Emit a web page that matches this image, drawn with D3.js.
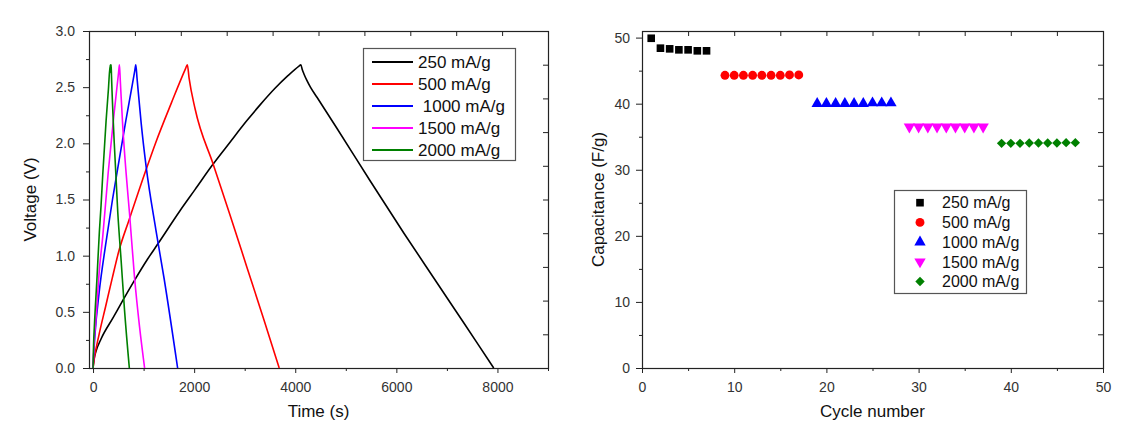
<!doctype html>
<html lang="en">
<head>
<meta charset="UTF-8">
<title>Charge-discharge and rate capability</title>
<style>
  body { margin: 0; background: #fff; }
  svg { display: block; font-family: Arial, "Liberation Sans", sans-serif; }
  .tick text { fill: #333; font-size: 14px; }
  .tick line { stroke: #222; }
  .axis-title { font-size: 17px; fill: #111; }
  .legend text { fill: #111; white-space: pre; }
</style>
</head>
<body>
<div id="chart"></div>
<script src="https://d3js.org/d3.v7.min.js"></script>
<script>
// galvanostatic charge / discharge curves
const t250 = [0, 20, 60, 160, 400, 600, 820, 1080, 1290, 1720, 2020, 2350, 2710, 3040, 3300, 3600, 3850, 4080, 4110, 4140, 4170, 4230, 4300, 4430, 4830, 5490, 6150, 6810, 7210, 7610, 7926]
const v250 = [0, 0.08, 0.15, 0.26, 0.45, 0.61, 0.78, 0.97, 1.11, 1.40, 1.59, 1.80, 2.01, 2.20, 2.34, 2.49, 2.60, 2.69, 2.70, 2.655, 2.62, 2.56, 2.50, 2.41, 2.13, 1.66, 1.20, 0.755, 0.485, 0.215, 0]

const t500 = [0, 20, 120, 250, 380, 516, 714, 1045, 1243, 1550, 1830, 1865, 1900, 2017, 2380, 2711, 3042, 3380, 3683]
const v500 = [0, 0.07, 0.30, 0.55, 0.80, 1.05, 1.32, 1.76, 2.01, 2.36, 2.665, 2.70, 2.58, 2.31, 1.81, 1.36, 0.90, 0.43, 0]

const t1000 = [0, 10, 40, 120, 250, 385, 516, 648, 760, 825, 846, 870, 952, 1051, 1243, 1408, 1673]
const v1000 = [0, 0.10, 0.31, 0.67, 1.10, 1.50, 1.85, 2.20, 2.48, 2.645, 2.70, 2.58, 2.18, 1.79, 1.23, 0.79, 0]

const t1500 = [0, 15, 60, 126, 190, 300, 410, 505, 522, 540, 588, 655, 721, 820, 919, 1020]
const v1500 = [0, 0.18, 0.45, 0.88, 1.16, 1.74, 2.24, 2.63, 2.70, 2.55, 2.15, 1.73, 1.38, 0.81, 0.37, 0]

const t2000 = [0, 10, 26, 79, 126, 159, 192, 258, 304, 340, 352, 358, 365, 420, 490, 555, 622, 718]
const v2000 = [0, 0.20, 0.37, 0.81, 1.22, 1.45, 1.72, 2.20, 2.48, 2.70, 2.63, 2.70, 2.60, 2.00, 1.38, 0.96, 0.52, 0]

// specific capacitance vs cycle number
const cyc250 = [1, 2, 3, 4, 5, 6, 7]
const cap250 = [49.9, 48.4, 48.3, 48.15, 48.15, 48.0, 48.0]
const cyc500 = [9, 10, 11, 12, 13, 14, 15, 16, 17]
const cap500 = [44.3, 44.3, 44.3, 44.3, 44.3, 44.3, 44.3, 44.35, 44.35]
const cyc1000 = [19, 20, 21, 22, 23, 24, 25, 26, 27]
const cap1000 = [40.0, 40.0, 40.0, 40.0, 40.0, 40.0, 40.1, 40.1, 40.1]
const cyc1500 = [29, 30, 31, 32, 33, 34, 35, 36, 37]
const cap1500 = [36.5, 36.5, 36.5, 36.5, 36.5, 36.5, 36.5, 36.5, 36.5]
const cyc2000 = [39, 40, 41, 42, 43, 44, 45, 46, 47]
const cap2000 = [34.0, 34.0, 34.0, 34.05, 34.05, 34.05, 34.05, 34.1, 34.1]

const lineLabels = ['250 mA/g', '500 mA/g', ' 1000 mA/g', '1500 mA/g', '2000 mA/g']
const dotLabels = ['250 mA/g', '500 mA/g', '1000 mA/g', '1500 mA/g', '2000 mA/g']
const colors = ['#000000', '#ff0000', '#0000ff', '#ff00ff', '#008000']

const vMajor = [0, 0.5, 1.0, 1.5, 2.0, 2.5, 3.0]
const vMinor = [0.25, 0.75, 1.25, 1.75, 2.25, 2.75]
const tMajor = [0, 2000, 4000, 6000, 8000]
const tMinor = [1000, 3000, 5000, 7000, 9000]
const cMajor = [0, 10, 20, 30, 40, 50]
const cMinor = [5, 15, 25, 35, 45]
const capMajor = [0, 10, 20, 30, 40, 50]
const capMinor = [5, 15, 25, 35, 45]

const svg = d3.select('#chart')
  .append('svg')
  .attr('width', 1138)
  .attr('height', 433)

function zip (xs, ys) {
  return xs.map((d, i) => [d, ys[i]])
}

// draws the box, the outward labelled axes and the inward mirror ticks
function frame (x, y, opt) {
  const [x0, x1] = x.range()
  const [y0, y1] = y.range()

  svg.append('g')
    .attr('transform', `translate(0,${y0})`)
    .call(d3.axisBottom(x).tickValues(opt.xMinor).tickSize(3).tickFormat(''))
  svg.append('g')
    .attr('transform', `translate(0,${y0})`)
    .call(d3.axisBottom(x).tickValues(opt.xMajor).tickSize(5).tickPadding(9).tickFormat(opt.xFormat))
  svg.append('g')
    .attr('transform', `translate(${x0},0)`)
    .call(d3.axisLeft(y).tickValues(opt.yMinor).tickSize(3).tickFormat(''))
  svg.append('g')
    .attr('transform', `translate(${x0},0)`)
    .call(d3.axisLeft(y).tickValues(opt.yMajor).tickSize(6).tickPadding(opt.yPad).tickFormat(opt.yFormat))

  // mirror axes: ten equal divisions of the box
  const xDiv = d3.scaleLinear().domain([0, 10]).range([x0, x1])
  const yDiv = d3.scaleLinear().domain([0, 10]).range([y0, y1])
  svg.append('g')
    .attr('transform', `translate(0,${y1})`)
    .call(d3.axisTop(xDiv).ticks(10).tickSize(-5).tickFormat(''))
  svg.append('g')
    .attr('transform', `translate(${x1},0)`)
    .call(d3.axisRight(yDiv).ticks(10).tickSize(-5).tickFormat(''))

  svg.selectAll('.domain').remove()

  svg.append('rect')
    .attr('x', x0 + 0.5)
    .attr('y', y1 + 0.5)
    .attr('width', x1 - x0)
    .attr('height', y0 - y1)
    .attr('fill', 'none')
    .attr('stroke', '#222')
    .attr('stroke-width', 1.2)

  svg.append('text')
    .attr('class', 'axis-title')
    .attr('x', (x0 + x1) / 2)
    .attr('y', 417)
    .attr('text-anchor', 'middle')
    .text(opt.xTitle)

  svg.append('text')
    .attr('class', 'axis-title')
    .attr('transform', `translate(${opt.yTitleX},${(y0 + y1) / 2}) rotate(-90)`)
    .attr('dy', '0.35em')
    .attr('text-anchor', 'middle')
    .text(opt.yTitle)
}

// ---- left: voltage vs time ----
const xT = d3.scaleLinear().domain([-80, 9000]).range([89, 548])
const yV = d3.scaleLinear().domain([0, 3]).range([368, 31])

frame(xT, yV, {
  xMajor: tMajor, xMinor: tMinor, xFormat: d3.format('d'),
  yMajor: vMajor, yMinor: vMinor, yFormat: d3.format('.1f'), yPad: 8,
  xTitle: 'Time (s)', yTitle: 'Voltage (V)', yTitleX: 30
})

const curves = [zip(t250, v250), zip(t500, v500), zip(t1000, v1000), zip(t1500, v1500), zip(t2000, v2000)]
const line = d3.line()
  .curve(d3.curveMonotoneX)
  .x(d => xT(d[0]))
  .y(d => yV(d[1]))

svg.append('g')
  .selectAll('path')
  .data(curves)
  .enter()
  .append('path')
  .attr('d', line)
  .attr('fill', 'none')
  .attr('stroke', (d, i) => colors[i])
  .attr('stroke-width', 1.6)
  .attr('stroke-linejoin', 'round')

const legL = svg.append('g').attr('class', 'legend')
legL.append('rect')
  .attr('x', 363.5).attr('y', 48.5).attr('width', 152).attr('height', 112)
  .attr('fill', '#fff').attr('stroke', '#555').attr('stroke-width', 1.2)
const rowL = legL.selectAll('g.row')
  .data(lineLabels)
  .enter()
  .append('g')
  .attr('class', 'row')
  .attr('transform', (d, i) => `translate(0,${62 + i * 22})`)
rowL.append('line')
  .attr('x1', 372).attr('x2', 413)
  .attr('stroke', (d, i) => colors[i])
  .attr('stroke-width', 2)
rowL.append('text')
  .attr('x', 418)
  .attr('dy', '0.36em')
  .style('font-size', '17px')
  .text(d => d)

// ---- right: capacitance vs cycle ----
const xC = d3.scaleLinear().domain([0, 50]).range([642, 1103])
const yC = d3.scaleLinear().domain([0, 51]).range([368, 31])

frame(xC, yC, {
  xMajor: cMajor, xMinor: cMinor, xFormat: d3.format('d'),
  yMajor: capMajor, yMinor: capMinor, yFormat: d3.format('d'), yPad: 6,
  xTitle: 'Cycle number', yTitle: 'Capacitance (F/g)', yTitleX: 598
})

const shapes = [
  { type: d3.symbolSquare, size: 58, rot: 0 },
  { type: d3.symbolCircle, size: 62, rot: 0 },
  { type: d3.symbolTriangle, size: 56, rot: 0 },
  { type: d3.symbolTriangle, size: 56, rot: 180 },
  { type: d3.symbolSquare, size: 44, rot: 45 }
]
const series = [zip(cyc250, cap250), zip(cyc500, cap500), zip(cyc1000, cap1000), zip(cyc1500, cap1500), zip(cyc2000, cap2000)]

series.forEach((pts, i) => {
  const sym = d3.symbol().type(shapes[i].type).size(shapes[i].size)
  svg.append('g')
    .selectAll('path')
    .data(pts)
    .enter()
    .append('path')
    .attr('d', sym)
    .attr('transform', d => `translate(${xC(d[0])},${yC(d[1])}) rotate(${shapes[i].rot})`)
    .attr('fill', colors[i])
})

const legR = svg.append('g').attr('class', 'legend')
legR.append('rect')
  .attr('x', 894.5).attr('y', 190.5).attr('width', 132).attr('height', 103)
  .attr('fill', '#fff').attr('stroke', '#555').attr('stroke-width', 1.2)
const rowR = legR.selectAll('g.row')
  .data(dotLabels)
  .enter()
  .append('g')
  .attr('class', 'row')
  .attr('transform', (d, i) => `translate(0,${202.7 + i * 19.7})`)
rowR.append('path')
  .attr('d', (d, i) => d3.symbol().type(shapes[i].type).size(shapes[i].size)())
  .attr('transform', (d, i) => `translate(920,0) rotate(${shapes[i].rot})`)
  .attr('fill', (d, i) => colors[i])
rowR.append('text')
  .attr('x', 942)
  .attr('dy', '0.36em')
  .style('font-size', '16px')
  .text(d => d)
</script>
</body>
</html>
